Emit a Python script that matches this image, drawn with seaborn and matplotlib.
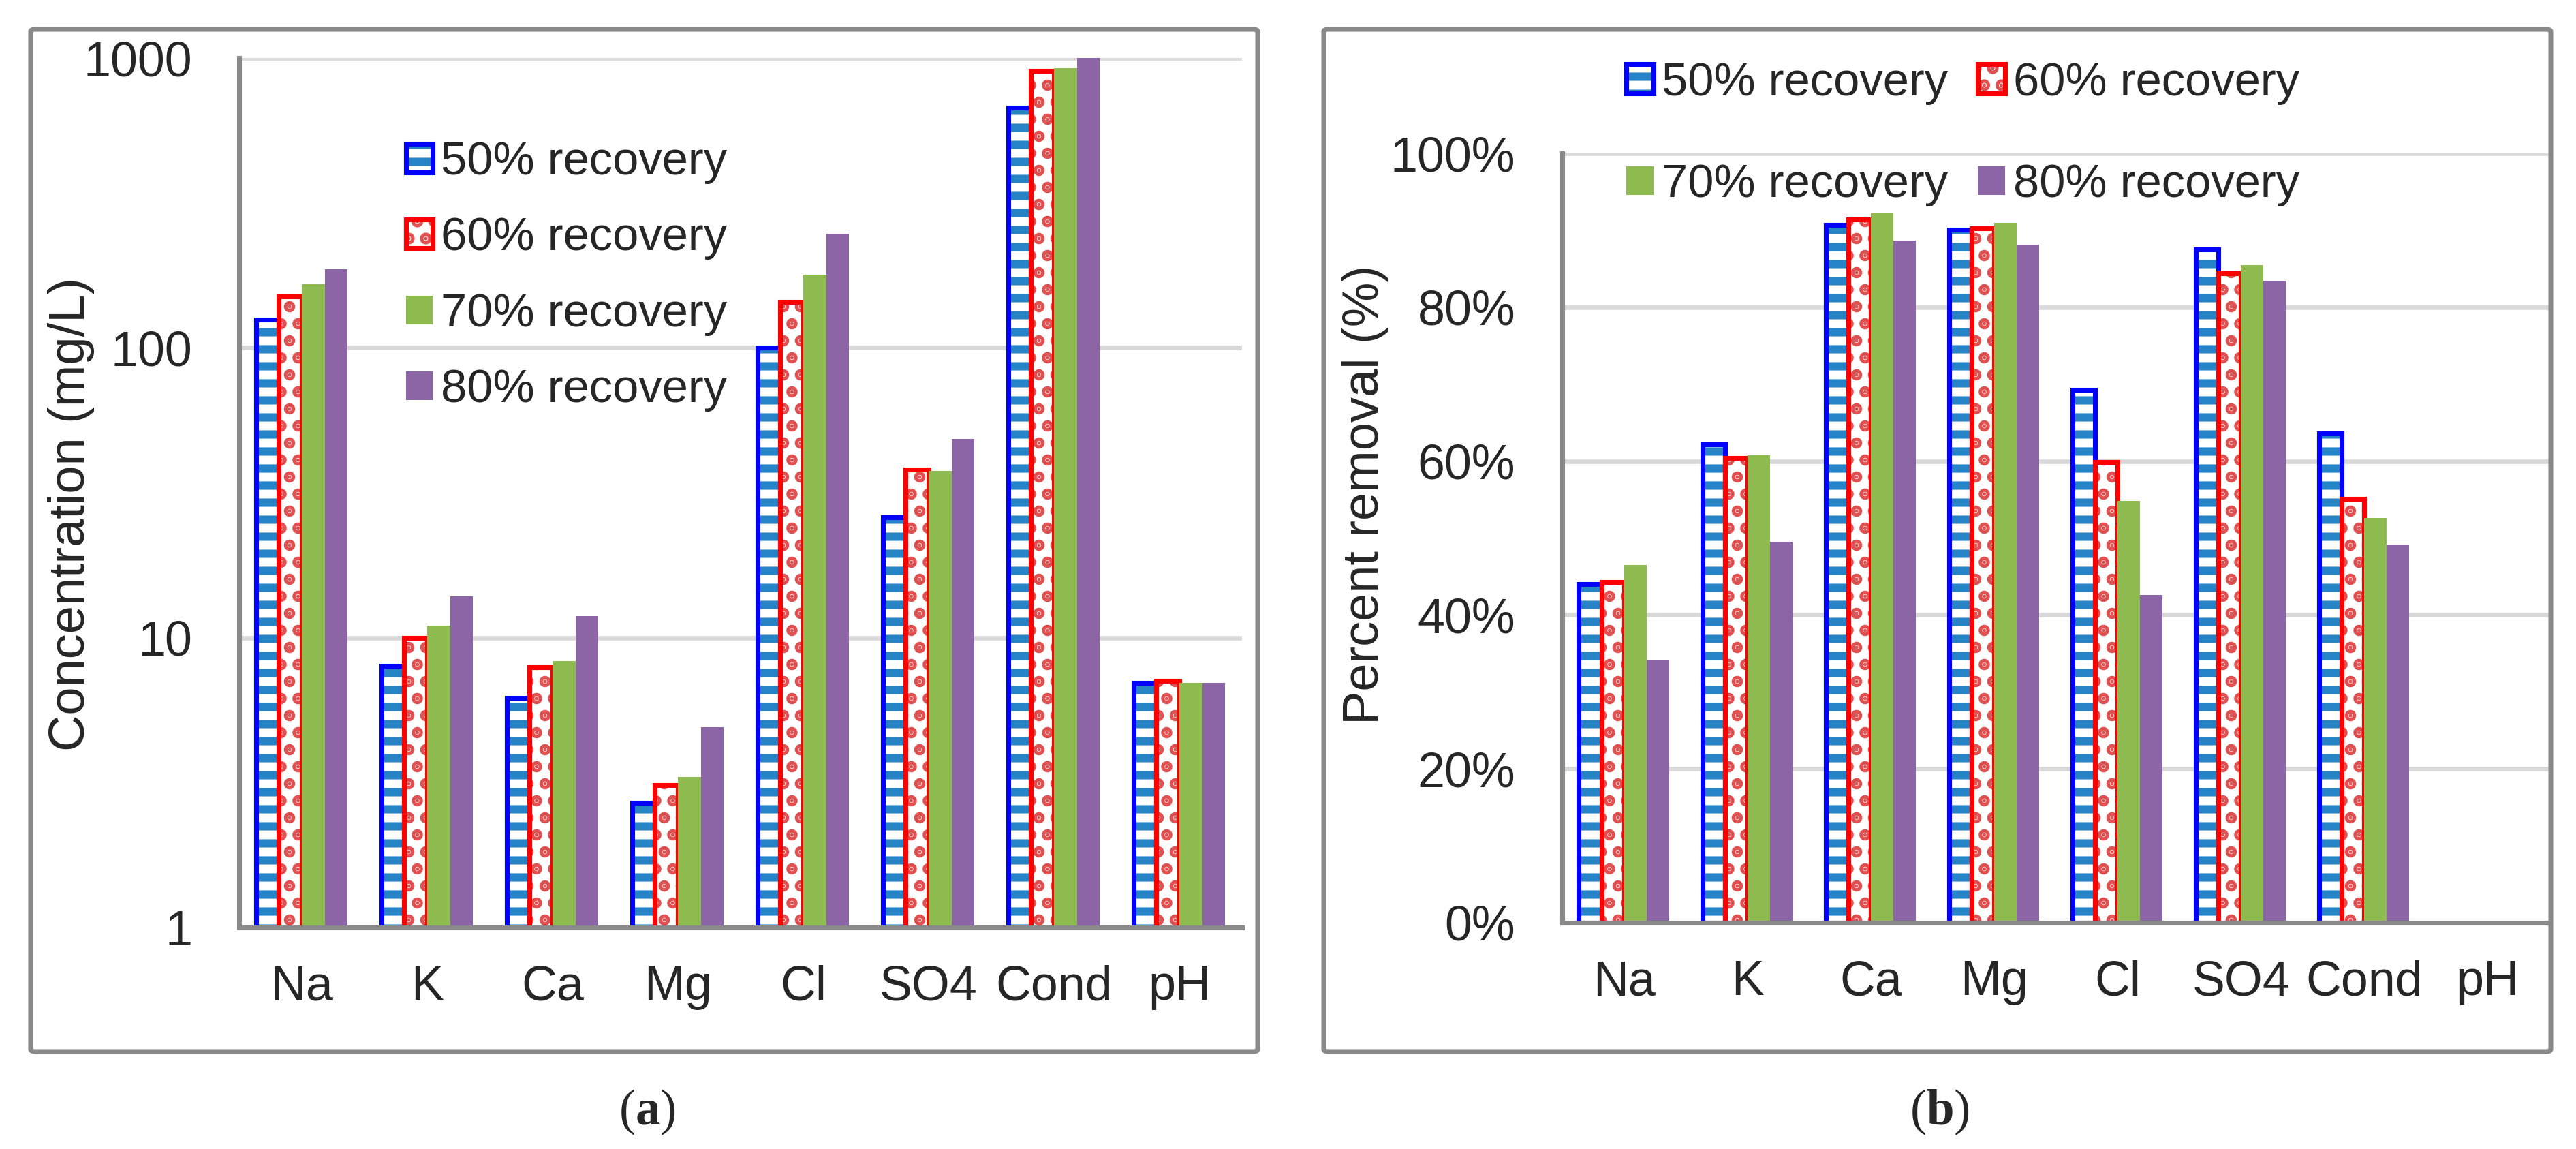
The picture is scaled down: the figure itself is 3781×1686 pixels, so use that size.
import numpy as np
import pandas as pd
import matplotlib
matplotlib.use('Agg')
import matplotlib.pyplot as plt
from matplotlib.patches import Rectangle, Patch, FancyBboxPatch
from matplotlib.ticker import FixedLocator, NullLocator, FuncFormatter
import seaborn as sns

IONS = ['Na', 'K', 'Ca', 'Mg', 'Cl', 'SO4', 'Cond', 'pH']
RECOVERY = ['50% recovery', '60% recovery', '70% recovery', '80% recovery']

# (a) permeate concentration, mg/L (log axis)
CONC_50 = [125, 8.0, 6.2, 2.7, 100, 26, 673, 7.0]
CONC_60 = [150, 10.0, 7.9, 3.1, 144, 38, 900, 7.1]
CONC_70 = [166, 11.0, 8.3, 3.3, 179, 37.6, 922, 6.98]
CONC_80 = [187, 13.9, 11.9, 4.9, 248, 48.6, 1000, 6.98]

# (b) percent removal, no value for pH
REM_50 = [44.0, 62.2, 90.7, 90.1, 69.3, 87.5, 63.6, np.nan]
REM_60 = [44.3, 60.4, 91.4, 90.3, 59.9, 84.4, 55.1, np.nan]
REM_70 = [46.5, 60.8, 92.3, 91.0, 54.8, 85.5, 52.6, np.nan]
REM_80 = [34.2, 49.5, 88.7, 88.1, 42.6, 83.4, 49.2, np.nan]

STYLES = [
    {'face': 'white', 'hatch': '-', 'hatch_color': '#2683C6', 'edge': '#0000FF'},
    {'face': 'white', 'hatch': '.', 'hatch_color': '#E05050', 'edge': '#FF0000'},
    {'face': '#8EBB50', 'hatch': None},
    {'face': '#8B65A6', 'hatch': None},
]

GREY = '#898989'
GRID = '#D9D9D9'
EDGE_LW = 3.4
W, H = 3781, 1686
DPI = 150


def to_long(series):
    rows = []
    for rec, vals in zip(RECOVERY, series):
        for ion, v in zip(IONS, vals):
            rows.append({'ion': ion, 'recovery': rec, 'value': v})
    return pd.DataFrame(rows)


def style_bars(ax):
    for i, (cont, st) in enumerate(zip(ax.containers, STYLES)):
        for bar in cont:
            bar.set_zorder(3 + i)
            if st['hatch']:
                bar.set_hatch(st['hatch'])
                bar.set_edgecolor(st['hatch_color'])
                bar.set_linewidth(0)
                if st['hatch'] == '.' and hasattr(bar, 'set_hatch_linewidth'):
                    bar.set_hatch_linewidth(5.5)
                ax.add_patch(Rectangle(bar.get_xy(), bar.get_width(), bar.get_height(),
                                       fill=False, edgecolor=st['edge'], linewidth=EDGE_LW,
                                       zorder=3 + i + 0.5))
            else:
                bar.set_edgecolor('none')
                bar.set_linewidth(0)


def legend_handles():
    handles = []
    for st in STYLES:
        if st['hatch']:
            h = (Patch(facecolor='white', hatch=st['hatch'], edgecolor=st['hatch_color'], linewidth=0),
                 Patch(facecolor='none', edgecolor=st['edge'], linewidth=EDGE_LW))
        else:
            h = Patch(facecolor=st['face'], linewidth=0)
        handles.append(h)
    return handles


def setup_axis(ax, ylabel):
    sns.despine(ax=ax)
    for side in ['left', 'bottom']:
        ax.spines[side].set_color(GREY)
        ax.spines[side].set_linewidth(3.4)
        ax.spines[side].set_zorder(10)
    ax.set_axisbelow(True)
    ax.yaxis.grid(True, color=GRID, linewidth=3.2)
    ax.xaxis.grid(False)
    ax.tick_params(axis='y', direction='in', length=11, width=3.4, color=GREY,
                   pad=33, labelsize=34.5)
    ax.tick_params(axis='x', length=0, pad=26, labelsize=34.5)
    ax.set_xlabel('')
    ax.set_ylabel(ylabel, fontsize=35.5)
    ax.set_xlim(-0.5, len(IONS) - 0.5)


def main():
    sns.set_style('white')
    plt.rcParams['font.family'] = ['Liberation Sans', 'DejaVu Sans']
    plt.rcParams['hatch.linewidth'] = 5.8
    plt.rcParams['mathtext.fontset'] = 'custom'
    plt.rcParams['mathtext.rm'] = 'Liberation Serif'
    plt.rcParams['mathtext.bf'] = 'Liberation Serif:bold'

    fig = plt.figure(figsize=(W / DPI, H / DPI), dpi=DPI)
    ax1 = fig.add_axes([351 / W, 1 - 1361 / H, 1472 / W, 1276 / H])
    ax2 = fig.add_axes([2293 / W, 1 - 1354 / H, 1449 / W, 1129 / H])

    palette = [s['face'] for s in STYLES]

    # (a) concentration
    df_conc = to_long([CONC_50, CONC_60, CONC_70, CONC_80])
    sns.barplot(data=df_conc, x='ion', y='value', hue='recovery', order=IONS,
                hue_order=RECOVERY, palette=palette, width=0.73, gap=0, saturation=1,
                errorbar=None, log_scale=(False, True), legend=False, ax=ax1)
    style_bars(ax1)
    setup_axis(ax1, 'Concentration (mg/L)')
    ax1.set_yscale('log')
    ax1.set_ylim(1, 1000)
    ax1.yaxis.set_major_locator(FixedLocator([1, 10, 100, 1000]))
    ax1.yaxis.set_minor_locator(NullLocator())
    ax1.yaxis.set_major_formatter(FuncFormatter(lambda v, _: f'{v:g}'))
    ax1.yaxis.set_label_coords(-0.144, 0.475)
    ax1.legend(legend_handles(), RECOVERY, loc='upper left',
               bbox_to_anchor=(596 / W, 1 - 206 / H), bbox_transform=fig.transFigure,
               frameon=False, fontsize=33, handlelength=0.56, handleheight=0.56,
               handletextpad=0.18, labelspacing=0.69, borderpad=0, borderaxespad=0)

    # (b) removal
    df_rem = to_long([REM_50, REM_60, REM_70, REM_80])
    sns.barplot(data=df_rem, x='ion', y='value', hue='recovery', order=IONS,
                hue_order=RECOVERY, palette=palette, width=0.73, gap=0, saturation=1,
                errorbar=None, legend=False, ax=ax2)
    style_bars(ax2)
    setup_axis(ax2, 'Percent removal (%)')
    ax2.set_ylim(0, 100)
    ax2.yaxis.set_major_locator(FixedLocator([0, 20, 40, 60, 80, 100]))
    ax2.yaxis.set_major_formatter(FuncFormatter(lambda v, _: f'{v:.0f}%'))
    ax2.yaxis.set_label_coords(-0.176, 0.556)
    h = legend_handles()
    ax2.legend([h[0], h[2], h[1], h[3]],
               [RECOVERY[0], RECOVERY[2], RECOVERY[1], RECOVERY[3]],
               ncol=2, loc='upper left',
               bbox_to_anchor=(2387 / W, 1 - 90 / H), bbox_transform=fig.transFigure,
               frameon=False, fontsize=33, handlelength=0.58, handleheight=0.58,
               handletextpad=0.17, labelspacing=1.24, columnspacing=0.65,
               borderpad=0, borderaxespad=0)

    # frames around each panel
    for x0, x1 in [(45, 1846), (1943, 3744)]:
        box = FancyBboxPatch((x0 / W, 1 - 1543 / H), (x1 - x0) / W, 1500 / H,
                             boxstyle='round,pad=0,rounding_size=0.002',
                             transform=fig.transFigure, fill=False,
                             edgecolor=GREY, linewidth=3.4)
        fig.patches.append(box)

    fig.text(950 / W, 1 - 1632 / H, r'($\mathbf{a}$)', ha='center', va='center',
             fontsize=35, family='Liberation Serif')
    fig.text(2847 / W, 1 - 1632 / H, r'($\mathbf{b}$)', ha='center', va='center',
             fontsize=35, family='Liberation Serif')

    fig.savefig('out.png', dpi=DPI)


if __name__ == '__main__':
    main()
